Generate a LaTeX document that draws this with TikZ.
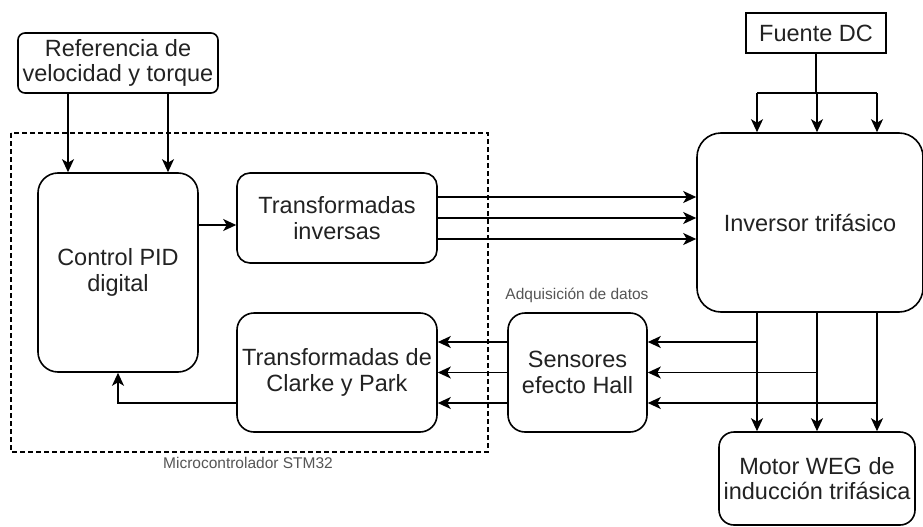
\documentclass[tikz,border=0pt]{standalone}
\usepackage{fontspec}
\setmainfont{Liberation Sans}
\usetikzlibrary{arrows.meta,calc}
\definecolor{txt}{HTML}{222222}
\definecolor{lbl}{HTML}{555555}
\begin{document}
\begin{tikzpicture}[x=1pt,y=-1pt,
  box/.style={draw=black,line width=1.6pt,inner sep=0pt,align=center,text=txt,
    font=\fontsize{23.5}{25.5}\selectfont},
  arr/.style={line width=1.6pt,-{Stealth[length=13pt,width=12pt,inset=3.5pt]}},
  ln/.style={line width=1.6pt},
  small/.style={text=lbl,font=\fontsize{15.5}{18}\selectfont,inner sep=0pt}]
\useasboundingbox (0,0) rectangle (923,527);
% microcontroller frame
\draw[line width=1.3pt,dash pattern=on 5pt off 3pt] (11,133) rectangle (488,452);
\node[small] (mcu) at (248,463) {Microcontrolador STM32};
% nodes
\node[box,rounded corners=7pt,minimum width=200pt,minimum height=60pt] (ref) at (118,63) {Referencia de\\velocidad y torque};
\node[box,rounded corners=20pt,minimum width=160pt,minimum height=199pt] (pid) at (118,272.5) {Control PID\\digital};
\node[box,rounded corners=13pt,minimum width=200pt,minimum height=90pt] (ti) at (337,218) {Transformadas\\inversas};
\node[box,rounded corners=17pt,minimum width=200pt,minimum height=119pt] (cp) at (337,372.5) {Transformadas de\\Clarke y Park};
\node[box,rounded corners=17pt,minimum width=139pt,minimum height=119pt] (sen) at (577.5,372.5) {Sensores\\efecto Hall};
\node[small] (adq) at (577,295) {Adquisición de datos};
\node[box,minimum width=140pt,minimum height=40pt] (dc) at (816,33) {Fuente DC};
\node[box,rounded corners=24pt,minimum width=226pt,minimum height=179pt] (inv) at (810,222.5) {Inversor trifásico};
\node[box,rounded corners=15pt,minimum width=196pt,minimum height=93pt] (mot) at (817,478.5) {Motor WEG de\\inducción trifásica};
% reference to PID
\draw[arr] ([xshift=-50pt]ref.south) -- ([xshift=-50pt]pid.north);
\draw[arr] ([xshift=50pt]ref.south) -- ([xshift=50pt]pid.north);
% PID to inverse transforms
\coordinate (a1) at (0,225);
\draw[arr] (pid.east |- a1) -- (ti.west |- a1);
% inverse transforms to inverter
\foreach \dy in {21,0,-21}
  \draw[arr] ([yshift=\dy pt]ti.east) -- ([yshift=\dy pt]ti.east -| inv.west);
% DC source to inverter
\coordinate (j) at (816,93);
\coordinate (p1) at (757,0);
\coordinate (p2) at (817,0);
\coordinate (p3) at (877,0);
\draw[ln] (dc.south) -- (j);
\draw[ln] (p1 |- j) -- (p3 |- j);
\draw[arr] (p1 |- j) -- (p1 |- inv.north);
\draw[arr] (p2 |- j) -- (p2 |- inv.north);
\draw[arr] (p3 |- j) -- (p3 |- inv.north);
% inverter to motor
\draw[arr] (p1 |- inv.south) -- (p1 |- mot.north);
\draw[arr] (p2 |- inv.south) -- (p2 |- mot.north);
\draw[arr] (p3 |- inv.south) -- (p3 |- mot.north);
% taps to sensors
\coordinate (r1) at (0,342);
\coordinate (r2) at (0,372.5);
\coordinate (r3) at (0,403);
\draw[arr] (p1 |- r1) -- (sen.east |- r1);
\draw[arr] (p2 |- r2) -- (sen.east |- r2);
\draw[arr] (p3 |- r3) -- (sen.east |- r3);
% sensors to Clarke/Park
\draw[arr] (sen.west |- r1) -- (cp.east |- r1);
\draw[arr] (sen.west |- r2) -- (cp.east |- r2);
\draw[arr] (sen.west |- r3) -- (cp.east |- r3);
% Clarke/Park to PID
\draw[arr] (cp.west |- r3) -| (pid.south);
\end{tikzpicture}
\end{document}
